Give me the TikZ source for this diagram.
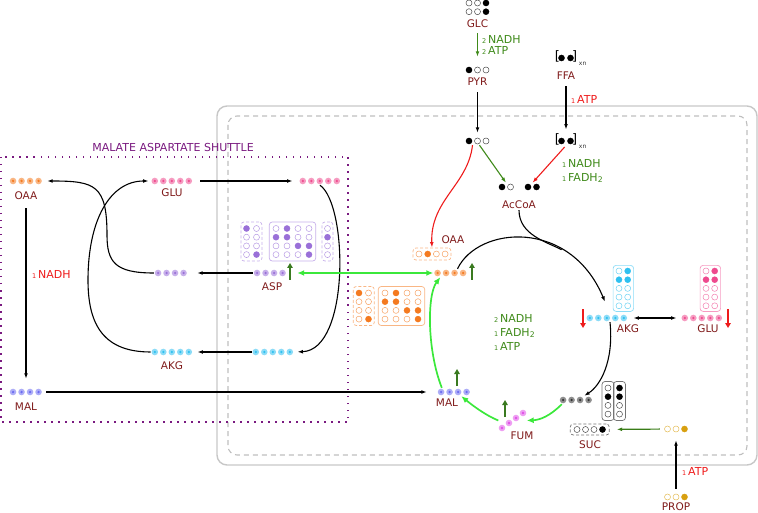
\documentclass[tikz,border=0pt]{standalone}
\usepackage{fontspec}
\setmainfont{DejaVu Sans}
\usepackage{xcolor}
\usetikzlibrary{arrows.meta}

\definecolor{labred}{HTML}{7F1A1A}
\definecolor{txtgreen}{HTML}{3F8A1A}
\definecolor{txtred}{HTML}{EE1C1C}
\definecolor{cycgreen}{HTML}{3BE83B}
\definecolor{upgreen}{HTML}{3A7A20}
\definecolor{shuttle}{HTML}{7A1A80}
\definecolor{oaacol}{HTML}{F47A20}
\definecolor{glucol}{HTML}{EE4A8E}
\definecolor{aspcol}{HTML}{9A70D8}
\definecolor{akgcol}{HTML}{2EC0F0}
\definecolor{malcol}{HTML}{6A6AF0}
\definecolor{fumcol}{HTML}{E050E8}
\definecolor{succol}{HTML}{333333}
\definecolor{propcol}{HTML}{D8A010}

\newcommand{\stoich}[1]{{\fontsize{6.5}{7}\selectfont#1}\,}

% row of metabolite dots with a node for the connectors
\newcommand{\met}[5]{%
  \node[grp, minimum width={#4*8.5}] (#1) at (#2,#3) {};
  \foreach \k in {1,...,#4} {
    \fill[#5!55] ([xshift={(\k-0.5)*8.5}]#1.west) circle (3.3);
    \fill[#5] ([xshift={(\k-0.5)*8.5}]#1.west) circle (1.3);
  }
}

% grid of carbon atoms: x, y, cols, rows, col step, colour, filled col/row
\newcommand{\carbs}[7]{%
  \foreach \i in {1,...,#3}
    \foreach \j in {1,...,#4}
      \filldraw[draw=#6!70, fill=white, line width=0.5pt] ({#1+(\i-1)*#5},{#2+(\j-1)*8.7}) circle (3);
  \foreach \i/\j in {#7}
    \fill[#6] ({#1+(\i-1)*#5},{#2+(\j-1)*8.7}) circle (3.1);
}

\begin{document}
\begin{tikzpicture}[x=1pt,y=-1pt,
    grp/.style={inner sep=0pt, minimum height=8pt},
    lab/.style={text=labred, font=\fontsize{10.5}{12}\selectfont, inner sep=1pt},
    note/.style={font=\fontsize{11}{14}\selectfont, inner sep=0pt, align=left, anchor=west},
    box/.style={draw=#1!55, rounded corners=3pt, line width=0.7pt, inner sep=0pt},
    dbox/.style={box=#1, densely dashed},
    flow/.style={line width=1.1pt},
    arr/.style={flow, -{Latex[length=5.5pt,width=3.8pt]}},
    darr/.style={flow, {Latex[length=5.5pt,width=3.8pt]}-{Latex[length=5.5pt,width=3.8pt]}},
    garr/.style={arr, txtgreen},
    rarr/.style={arr, txtred},
    cyc/.style={line width=1.7pt, cycgreen, -{Latex[length=7pt,width=6pt]}},
    cycboth/.style={line width=1.7pt, cycgreen, {Latex[length=7pt,width=6pt]}-{Latex[length=7pt,width=6pt]}},
    upa/.style={-{Triangle[length=5pt,width=5.5pt]}, upgreen, line width=1.8pt},
    dna/.style={-{Triangle[length=5pt,width=5.5pt]}, txtred, line width=1.8pt}]

\useasboundingbox (0,0) rectangle (758,513);

% compartments
\draw[rounded corners=10pt, draw=black!22, line width=1.4pt] (217,106) rectangle (757,465);
\draw[rounded corners=9pt, draw=black!25, dash pattern=on 5pt off 4pt, line width=1.1pt] (228,116) rectangle (747,455);
\draw[shuttle, line width=1.5pt, dash pattern=on 1.5pt off 5.5pt] (1,157) rectangle (348,422);
\node[font=\fontsize{11}{12}\selectfont, text=shuttle] (title) at (173,147) {MALATE ASPARTATE SHUTTLE};

% glucose and fatty acids
\carbs{469}{3}{3}{2}{8.5}{black}{3/1,3/2}
\node[lab] (glcL) at (477.5,24) {GLC};
\node[grp, minimum width=26] (pyrP) at (477.5,70) {};
\carbs{469}{70}{3}{1}{8.5}{black}{1/1}
\node[lab] (pyrL) at (477.5,82) {PYR};
\node[grp, minimum width=26] (pyrM) at (477.5,141) {};
\carbs{469}{141}{3}{1}{8.5}{black}{1/1}

\node[font=\fontsize{13}{14}\selectfont, inner sep=0pt] (ffaC) at (566,56.5) {[\hspace{12pt}]};
\carbs{561.5}{58}{2}{1}{9}{black}{1/1,2/1}
\node[font=\fontsize{6}{6}\selectfont, text=black!80, anchor=south west, inner sep=0pt] at ([xshift=1.5pt,yshift=-3pt]ffaC.south east) {xn};
\node[lab] (ffaL) at (566,76) {FFA};
\node[font=\fontsize{13}{14}\selectfont, inner sep=0pt] (ffaM) at (566,139.5) {[\hspace{12pt}]};
\carbs{561.5}{141}{2}{1}{9}{black}{1/1,2/1}
\node[font=\fontsize{6}{6}\selectfont, text=black!80, anchor=south west, inner sep=0pt] at ([xshift=1.5pt,yshift=-3pt]ffaM.south east) {xn};

\node[grp, minimum width=17] (acA) at (506,187) {};
\carbs{502}{187}{2}{1}{8.5}{black}{1/1}
\node[grp, minimum width=17] (acB) at (532.5,187) {};
\carbs{528}{187}{2}{1}{8.5}{black}{1/1,2/1}
\node[lab] (acL) at (519,205) {AcCoA};
\coordinate (accjoin) at (561.6,249.7);

\draw[garr, shorten <=4pt, shorten >=9pt] (glcL) -- (pyrP);
\node[note, text=txtgreen, font=\fontsize{11}{11}\selectfont] at (482,45) {\stoich{2}NADH\\\stoich{2}ATP};
\draw[arr, shorten <=5pt, shorten >=4pt] (pyrL) -- (pyrM);
\draw[arr, shorten <=5pt, shorten >=4pt] (ffaL) -- (ffaM);
\node[note, text=txtred] at (571,99) {\stoich{1}ATP};
\draw[garr] ([xshift=2pt]pyrM.south) -- (acA.north);
\draw[rarr, shorten <=2pt] (ffaM.south) -- (acB.north);
\node[note, text=txtgreen] at (562,171) {\stoich{1}NADH\\\stoich{1}FADH\textsubscript{2}};

% TCA cycle
\node[dbox=oaacol, minimum width=38, minimum height=12] (oaaB) at (432,254) {};
\carbs{419}{254}{4}{1}{8.7}{oaacol}{2/1}
\node[lab] (oaaL) at (453,240) {OAA};
\met{oaaC}{450.5}{273}{4}{oaacol}
\node[dbox=oaacol, minimum width=21, minimum height=39] (oaaB1) at (363.75,306) {};
\carbs{359}{293}{2}{4}{9.5}{oaacol}{1/1,2/4}
\node[box=oaacol, minimum width=46.5, minimum height=39] (oaaB2) at (401.5,306) {};
\carbs{385}{293}{4}{4}{11}{oaacol}{2/1,1/2,2/2,3/3,4/3,4/4}

\met{akgC}{607}{318}{5}{akgcol}
\node[lab] (akgL) at (628,329) {AKG};
\node[box=akgcol, minimum width=20.5, minimum height=46] (akgB) at (623.35,288.4) {};
\carbs{619}{271}{2}{5}{8.7}{akgcol}{2/1,1/2,2/2}
\met{gluC}{702}{318}{5}{glucol}
\node[lab] (gluL) at (708,329) {GLU};
\node[box=glucol, minimum width=20.5, minimum height=46] (gluB) at (710.35,288.4) {};
\carbs{706}{271}{2}{5}{8.7}{glucol}{2/1,1/2,2/2}

\met{sucC}{576}{400}{4}{succol}
\node[box=black, minimum width=12, minimum height=39] (sucB1) at (608,401) {};
\node[box=black, minimum width=12, minimum height=39] (sucB2) at (619.5,401) {};
\carbs{608}{388}{2}{4}{11.5}{black}{2/1,1/2,2/2}
\node[dbox=black, minimum width=39, minimum height=11] (sucD) at (589.75,429.5) {};
\carbs{577}{429.5}{4}{1}{8.5}{black}{4/1}
\node[lab] (sucL) at (590,445) {SUC};

\node[grp, minimum width=28, minimum height=16] (fumC) at (512.5,420.5) {};
\foreach \x/\y in {502/428,509/423,516/418,523/413} {
  \fill[fumcol!55] (\x,\y) circle (3.3);
  \fill[fumcol] (\x,\y) circle (1.3);
}
\node[lab] (fumL) at (522,436) {FUM};
\met{malC}{454}{392}{4}{malcol}
\node[lab] (malL) at (447,403) {MAL};

\node[grp, minimum width=26] (propM) at (676,429) {};
\carbs{667.5}{429}{3}{1}{8.5}{propcol}{3/1}
\node[grp, minimum width=26] (propC) at (676,497) {};
\carbs{667.5}{497}{3}{1}{8.5}{propcol}{3/1}
\node[lab] (propL) at (676,507) {PROP};

\draw[rarr] ([xshift=-5pt]pyrM.south) .. controls (468,185) and (430,200) .. (oaaB.north);
\draw[flow] (acL.south) .. controls (519,235) and (547,242) .. (accjoin);
\draw[arr] ([xshift=7pt]oaaC.north) .. controls (478,226) and (570,218) .. ([xshift=-2pt,yshift=12pt]akgC.north);
\draw[arr] ([xshift=3pt]akgC.south) .. controls (614,362) and (600,386) .. ([xshift=-9pt]sucC.north east);
\draw[cyc] ([xshift=3pt]sucC.south west) .. controls (550,416) and (540,420) .. (fumC.east);
\draw[cyc] (fumC.west) .. controls (485,415) and (472,405) .. (malC.-30);
\draw[cyc] ([xshift=5pt]malC.north west) .. controls (427,350) and (427,295) .. ([xshift=7pt]oaaC.south west);
\node[note, text=txtgreen] at (494,332) {\stoich{2}NADH\\\stoich{1}FADH\textsubscript{2}\\\stoich{1}ATP};
\draw[darr, shorten <=5pt, shorten >=4pt] (akgC) -- (gluC);
\draw[arr, txtgreen!90!black, line width=1.2pt, shorten <=3pt, shorten >=7pt] (propM) -- (sucD);
\draw[arr, shorten <=4pt, shorten >=7pt] (propC) -- (propM);
\node[note, text=txtred] at (682,471) {\stoich{1}ATP};

% malate aspartate shuttle
\met{oaaS}{26}{181}{4}{oaacol}
\node[lab] (oaaSL) at (26,196) {OAA};
\met{gluS}{172}{181}{5}{glucol}
\node[lab] (gluSL) at (172,193) {GLU};
\met{gluM}{320}{181}{5}{glucol}
\met{aspS}{171}{273}{4}{aspcol}
\met{aspM}{270}{273}{4}{aspcol}
\node[lab] (aspL) at (272,287) {ASP};
\met{akgS}{172}{352}{5}{akgcol}
\node[lab] (akgSL) at (172,366) {AKG};
\met{akgM}{273}{352}{5}{akgcol}
\met{malS}{26}{392}{4}{malcol}
\node[lab] (malSL) at (26,407) {MAL};

\node[dbox=aspcol, minimum width=21, minimum height=39] (aspB1) at (251.5,241.5) {};
\carbs{246.5}{228.5}{2}{4}{10}{aspcol}{1/1,2/4}
\node[box=aspcol, minimum width=46.5, minimum height=39] (aspB2) at (292.5,241.5) {};
\carbs{276}{228.5}{4}{4}{11}{aspcol}{2/1,1/2,2/2,3/3,4/3,4/4}
\node[dbox=aspcol, minimum width=11, minimum height=39] (aspB3) at (327.5,241.5) {};
\carbs{327.5}{228.5}{1}{4}{10}{aspcol}{1/2}

\draw[arr, shorten <=7pt, shorten >=9pt] (oaaSL) -- (malS);
\node[note, text=txtred] at (32,274) {\stoich{1}NADH};
\draw[arr, shorten <=3pt, shorten >=10pt] (malS) -- (malC);
\draw[arr, shorten <=7pt, shorten >=6pt] (gluS) -- (gluM);
\draw[arr, shorten >=3pt] (gluM.south) .. controls (348,205) and (350,350) .. (akgM.east);
\draw[arr, shorten >=4pt] (akgM) -- (akgS);
\draw[arr, shorten >=2pt] (akgS.west) .. controls (100,352) and (88,320) .. (88,280)
  .. controls (88,220) and (110,181) .. (gluS.west);
\draw[arr, shorten >=9pt] (aspM) -- (aspS);
\draw[arr, shorten >=4pt] (aspS.west) .. controls (115,273) and (107,262) .. (107,235)
  .. controls (107,185) and (95,181) .. (oaaS.east);
\draw[cycboth, shorten >=10pt] (oaaC.west) -- (aspM.east);

% up and down markers
\draw[upa] (290,280) -- (290,263);
\draw[upa] (472,280) -- (472,263);
\draw[upa] (457,386) -- (457,369);
\draw[upa] (505,417) -- (505,400);
\draw[dna] (583,309) -- (583,328);
\draw[dna] (728,309) -- (728,328);
\end{tikzpicture}
\end{document}
